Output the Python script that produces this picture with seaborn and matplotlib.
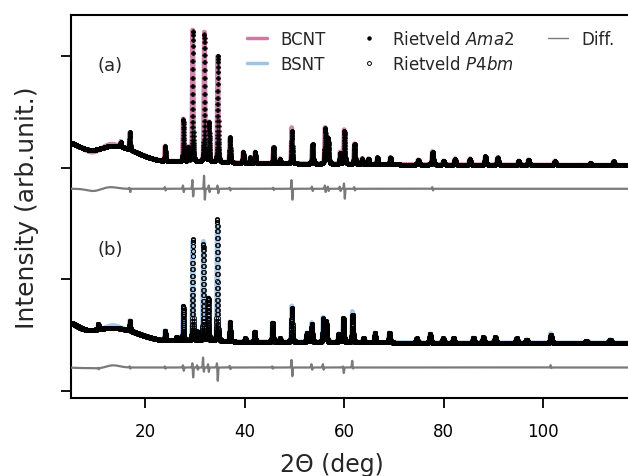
import numpy as np
import pandas as pd
import matplotlib
matplotlib.use("Agg")
import matplotlib.pyplot as plt
import seaborn as sns
from matplotlib.lines import Line2D

# ---------------- data ----------------
x_min, x_max, x_step = 5.0, 117.1, 0.01

# background knots (2theta, intensity) for the two patterns
bg_a_pos = [5, 7, 9, 11, 13, 15, 17, 20, 23, 26, 30, 40, 60, 80, 118]
bg_a_val = [2.23, 2.18, 2.15, 2.17, 2.20, 2.19, 2.16, 2.10, 2.06, 2.055, 2.05, 2.04, 2.03, 2.025, 2.02]
bg_b_pos = [5, 7, 8.5, 11, 13, 15, 17, 20, 23, 26, 30, 40, 60, 80, 118]
bg_b_val = [0.62, 0.56, 0.54, 0.555, 0.57, 0.56, 0.54, 0.49, 0.455, 0.45, 0.445, 0.44, 0.435, 0.43, 0.43]

# BCNT (a): peak positions and peak-top intensities
peaks_a_pos = [15.06, 16.9, 24.0, 27.66, 28.66, 29.55, 31.9, 32.85, 34.6, 37.05, 39.7, 41.1,
               42.1, 45.8, 47.1, 49.5, 53.65, 56.2, 56.8, 59.2, 60.05, 62.1, 63.6, 64.9,
               66.7, 69.3, 74.9, 77.8, 80.0, 82.3, 85.3, 88.4, 90.9, 95.1, 97.1, 102.4,
               109.5, 114.2]
peaks_a_top = [2.23, 2.32, 2.19, 2.43, 2.18, 3.22, 3.19, 2.40, 3.00, 2.27, 2.14, 2.09,
               2.14, 2.18, 2.08, 2.33, 2.21, 2.35, 2.26, 2.13, 2.33, 2.21, 2.08, 2.08,
               2.09, 2.09, 2.07, 2.14, 2.06, 2.08, 2.08, 2.10, 2.09, 2.06, 2.07, 2.06,
               2.04, 2.055]

# BSNT (b)
peaks_b_pos = [10.55, 16.9, 24.0, 26.3, 27.66, 29.55, 30.5, 31.7, 32.7, 34.5, 37.05, 40.1,
               42.0, 45.6, 47.1, 49.5, 52.5, 53.5, 55.8, 56.4, 58.9, 59.85, 61.7, 63.9,
               66.2, 69.1, 74.6, 77.3, 79.9, 82.0, 86.0, 88.0, 90.4, 94.7, 96.7, 101.6,
               108.7, 113.5]
peaks_b_top = [0.60, 0.63, 0.54, 0.48, 0.76, 1.355, 0.525, 1.31, 0.83, 1.54, 0.615, 0.47,
               0.53, 0.61, 0.47, 0.74, 0.52, 0.60, 0.645, 0.62, 0.51, 0.655, 0.68, 0.47,
               0.52, 0.52, 0.47, 0.51, 0.47, 0.47, 0.475, 0.48, 0.48, 0.47, 0.46, 0.50,
               0.445, 0.46]

# residual (obs - calc) features: position, upward lobe, downward lobe
diff_a_pos = [16.9, 24.0, 27.66, 29.55, 31.9, 32.85, 34.6, 37.05, 45.8, 49.5, 53.6, 56.2,
              56.8, 59.2, 60.05, 62.1, 77.8]
diff_a_up = [0.01, 0.015, 0.03, 0.08, 0.12, 0.03, 0.03, 0.01, 0.01, 0.08, 0.02, 0.03,
             0.02, 0.02, 0.05, 0.015, 0.015]
diff_a_dn = [0.03, 0.015, 0.03, 0.07, 0.10, 0.03, 0.04, 0.015, 0.01, 0.10, 0.02, 0.03,
             0.02, 0.02, 0.09, 0.015, 0.015]
diff_b_pos = [10.55, 16.9, 24.0, 27.66, 29.55, 30.5, 31.7, 32.7, 34.5, 37.05, 45.6, 49.5,
              53.5, 55.8, 59.85, 61.7, 101.6]
diff_b_up = [0.005, 0.01, 0.01, 0.02, 0.04, 0.02, 0.09, 0.03, 0.04, 0.015, 0.01, 0.07,
             0.03, 0.03, 0.01, 0.06, 0.02]
diff_b_dn = [0.01, 0.01, 0.01, 0.03, 0.09, 0.02, 0.04, 0.04, 0.12, 0.015, 0.01, 0.08,
             0.02, 0.02, 0.05, 0.01, 0.005]
# broad low-angle residual waves: position, amplitude
wave_a_pos = [9.5, 13.0]
wave_a_amp = [-0.02, 0.015]
wave_b_pos = [7.0, 10.5, 13.5]
wave_b_amp = [-0.005, -0.008, 0.02]

diff_a_offset = 1.81
diff_b_offset = 0.21

label_a, label_b = "BCNT", "BSNT"
ticks_x = [20, 40, 60, 80, 100]
ticks_y = [0, 1, 2, 3]

# ---------------- build patterns ----------------
tt = np.arange(x_min, x_max + x_step / 2, x_step)
n_k = int(round(3.0 / x_step))


def smooth_bg(pos, val):
    raw = np.interp(tt, pos, val)
    k = np.arange(-n_k, n_k + 1) * x_step
    ker = np.exp(-0.5 * (k / 0.8) ** 2)
    ker /= ker.sum()
    pad = np.pad(raw, n_k, mode="edge")
    return np.convolve(pad, ker, mode="valid")


def profile(p):
    w = 0.14 + 0.0022 * p
    d = (tt - p) / w
    return 0.4 / (1 + 4 * d ** 2) + 0.6 * np.exp(-4 * np.log(2) * d ** 2)


def calc_pattern(bg_pos, bg_val, pk_pos, pk_top):
    bg = smooth_bg(bg_pos, bg_val)
    y = bg.copy()
    for p, t in zip(pk_pos, pk_top):
        h = t - np.interp(p, tt, bg)
        y += h * profile(p)
    return y


def residual(pos, up, dn, wpos, wamp):
    r = np.zeros_like(tt)
    for p, u, d in zip(pos, up, dn):
        r += u * np.exp(-0.5 * ((tt - (p - 0.08)) / 0.06) ** 2)
        r -= d * np.exp(-0.5 * ((tt - (p + 0.08)) / 0.06) ** 2)
    for p, a in zip(wpos, wamp):
        r += a * np.exp(-0.5 * ((tt - p) / 1.3) ** 2)
    return r


calc_a = calc_pattern(bg_a_pos, bg_a_val, peaks_a_pos, peaks_a_top)
calc_b = calc_pattern(bg_b_pos, bg_b_val, peaks_b_pos, peaks_b_top)
res_a = residual(diff_a_pos, diff_a_up, diff_a_dn, wave_a_pos, wave_a_amp)
res_b = residual(diff_b_pos, diff_b_up, diff_b_dn, wave_b_pos, wave_b_amp)

df = pd.DataFrame({
    "tt": tt,
    "obs_a": calc_a + res_a, "calc_a": calc_a, "diff_a": res_a + diff_a_offset,
    "obs_b": calc_b + res_b, "calc_b": calc_b, "diff_b": res_b + diff_b_offset,
})

# ---------------- plot ----------------
sns.set_theme(style="ticks")
plt.rcParams["font.family"] = ["DejaVu Sans"]
plt.rcParams["mathtext.fontset"] = "dejavusans"

pink = "#CC79A7"
blue = "#9DC3E8"
grey = "#7A7A7A"

fig = plt.figure(figsize=(6.28, 4.77), dpi=100)
ax = fig.add_axes([70.7 / 628, 78 / 477, (628 - 70.7) / 628, 383 / 477])

sns.lineplot(data=df, x="tt", y="obs_a", ax=ax, color=pink, lw=3.5, alpha=0.9,
             estimator=None, sort=False, zorder=1)
sns.lineplot(data=df, x="tt", y="obs_b", ax=ax, color=blue, lw=3.5, alpha=0.9,
             estimator=None, sort=False, zorder=1)
ax.plot(df["tt"], df["calc_a"], ls="", marker="P", ms=3.0, mfc="black", mec="black",
        mew=0.2, zorder=2)
ax.plot(df["tt"], df["calc_b"], ls="", marker="o", ms=3.0, mfc="none", mec="black",
        mew=0.6, zorder=2)
sns.lineplot(data=df, x="tt", y="diff_a", ax=ax, color=grey, lw=1.6,
             estimator=None, sort=False, zorder=3)
sns.lineplot(data=df, x="tt", y="diff_b", ax=ax, color=grey, lw=1.6,
             estimator=None, sort=False, zorder=3)

ax.set_xlim(x_min, x_max)
ax.set_ylim(-0.063, 3.366)
ax.set_xticks(ticks_x)
ax.set_yticks(ticks_y)
ax.set_yticklabels([])
ax.tick_params(axis="both", direction="out", length=7, width=1.3, labelsize=12,
               colors="black", pad=10)
for s in ["left", "bottom", "top"]:
    ax.spines[s].set_linewidth(1.5)
    ax.spines[s].set_color("black")
ax.spines["right"].set_visible(False)

ax.set_xlabel("2Θ (deg)", fontsize=17)
ax.set_ylabel("Intensity (arb.unit.)", fontsize=18)
ax.xaxis.set_label_coords(0.468, -0.141)
ax.yaxis.set_label_coords(-0.056, 0.5)

ax.text(12.9, 2.92, "(a)", fontsize=13, ha="center", va="center")
ax.text(12.9, 1.27, "(b)", fontsize=13, ha="center", va="center")

handles = [
    Line2D([], [], color=pink, lw=2.5),
    Line2D([], [], color=blue, lw=2.5),
    Line2D([], [], ls="", marker="o", ms=2.2, color="black"),
    Line2D([], [], ls="", marker="o", ms=2.8, mfc="none", mec="black", mew=0.7),
    Line2D([], [], color=grey, lw=1.0),
]
labels = [label_a, label_b, r"Rietveld $\mathit{Ama}$2", r"Rietveld $\mathit{P4bm}$", "Diff."]
ax.legend(handles, labels, ncol=3, frameon=False, fontsize=12, handlelength=1.2,
          handletextpad=0.8, columnspacing=2.0, labelspacing=0.4, borderaxespad=0,
          loc="upper left", bbox_to_anchor=(240.3 / 628, 0.9486),
          bbox_transform=fig.transFigure)

fig.savefig("out.png", dpi=100)
